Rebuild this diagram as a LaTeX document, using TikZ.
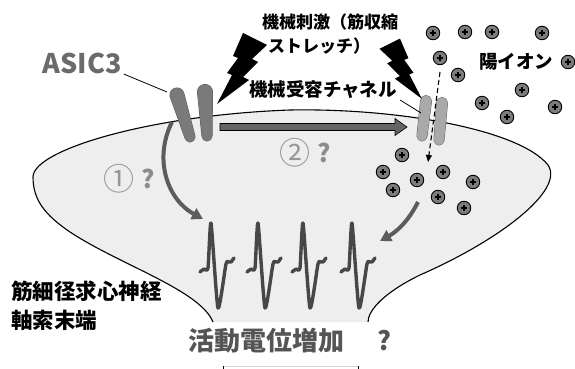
\documentclass[tikz,border=0pt]{standalone}
\usepackage{fontspec}
\setmainfont{Noto Sans CJK JP}
\usetikzlibrary{arrows.meta,calc}

\definecolor{membranefill}{HTML}{EEEEEE}
\definecolor{asicfill}{HTML}{7A7A7A}
\definecolor{asicedge}{HTML}{5E5E5E}
\definecolor{mechfill}{HTML}{A9A9A9}
\definecolor{mechedge}{HTML}{6A6A6A}
\definecolor{flowgray}{HTML}{5C5C5C}
\definecolor{spikegray}{HTML}{474747}
\definecolor{ionfill}{HTML}{7C7C7C}
\definecolor{labelgray}{HTML}{6B6B6B}
\definecolor{numgray}{HTML}{969696}
\definecolor{qgray}{HTML}{8C8C8C}
\definecolor{apgray}{HTML}{555555}

% tapered capsule between two circle centres: #1 top, #2 top radius, #3 bottom, #4 bottom radius
\newcommand\capsulepath[4]{%
  #1 circle[radius=#2] #3 circle[radius=#4]
  ($#1!#2!90:#3$) -- ($#1!#2!-90:#3$) -- ($#3!#4!90:#1$) -- ($#3!#4!-90:#1$) -- cycle}
% channel subunit: outlined outer edge, clean interior
\newcommand\chanblob[6]{%
  \filldraw[fill=#5,draw=#6,line width=1pt] \capsulepath{#1}{#2}{#3}{#4};
  \fill[#5] \capsulepath{#1}{#2}{#3}{#4};}

\begin{document}
\begin{tikzpicture}[x=1pt,y=-1pt,
  txt/.style={inner sep=0pt,anchor=center},
  ion/.style={circle,draw=black,fill=ionfill,line width=0.9pt,minimum size=13.5pt,inner sep=0pt,
    path picture={\draw[line width=1.6pt]
      ([xshift=-3.2pt]path picture bounding box.center) -- ([xshift=3.2pt]path picture bounding box.center)
      ([yshift=-3.2pt]path picture bounding box.center) -- ([yshift=3.2pt]path picture bounding box.center);}},
  flow/.style={draw=flowgray,line width=4pt,-{Triangle[length=11pt,width=12pt]}},
  spike/.style={draw=spikegray,line width=3.4pt,line join=round,line cap=round},
  bolt/.style={fill=black},
  leader/.style={draw=black,line width=0.8pt}]

\useasboundingbox (0,0) rectangle (575,369);

% nerve terminal body
\fill[membranefill] (213,322) .. controls (200,290) and (120,265) .. (70,232)
  .. controls (45,215) and (33,200) .. (33,177)
  .. controls (33,150) and (150,115) .. (290,110)
  .. controls (400,108) and (520,130) .. (548,165)
  .. controls (565,190) and (500,240) .. (420,275)
  .. controls (385,292) and (368,310) .. (368,322) -- cycle;
\draw[black,line width=1.1pt] (213,322) .. controls (200,290) and (120,265) .. (70,232)
  .. controls (45,215) and (33,200) .. (33,177)
  .. controls (33,150) and (150,115) .. (290,110)
  .. controls (400,108) and (520,130) .. (548,165)
  .. controls (565,190) and (500,240) .. (420,275)
  .. controls (385,292) and (368,310) .. (368,322);

% box edge below the terminal
\draw[gray!35,line width=1pt] (223,366.5) -- (358,366.5);
\draw[black,line width=1pt] (223,366) -- (223,372) (358,366) -- (358,372);

% pathway 2 arrow
\filldraw[fill=flowgray!95!white,draw=black,line width=0.6pt]
  (220,123.5) -- (395,123.5) -- (395,118.5) -- (407,127) -- (395,135.5) -- (395,130.5) -- (220,130.5) -- cycle;

% pathway 1 and ion-current arrows
\coordinate (p1s) at (172,122);
\coordinate (p1e) at (203,219);
\coordinate (p2s) at (418,202);
\coordinate (p2e) at (380,241);
\draw[flow] (p1s) .. controls (153,160) and (168,200) .. (p1e);
\draw[flow] (p2s) .. controls (408,222) and (396,232) .. (p2e);

% action potentials
\foreach \sx in {200,247,292,341}{
  \begin{scope}[shift={(\sx,272)}]
    \draw[spike] plot[smooth,tension=0.35] coordinates
      {(0,0) (4,-3) (8,-4) (11,-49) (18,36) (26,-8) (29,-10) (31,-10) (34,-14)};
  \end{scope}}

% ASIC3 channel
\chanblob{(177,95)}{7pt}{(190,137)}{5pt}{asicfill}{asicedge}
\chanblob{(205,92)}{7.5pt}{(207,136)}{5pt}{asicfill}{asicedge}
\coordinate (asicpt) at (167,92);

% mechanoreceptor channel
\chanblob{(426,101)}{5.5pt}{(422,136)}{5pt}{mechfill}{mechedge}
\chanblob{(442,103)}{5.5pt}{(439,140)}{5pt}{mechfill}{mechedge}
\coordinate (mechpt) at (421,113);

% cations
\foreach \p [count=\k] in {(433,33),(465,32),(492,32),(542,33),(440,58),(458,75),(568,62),
    (522,90),(482,103),(507,117),(555,107),
    (402,155),(383,172),(393,190),(417,180),(443,172),(438,197),(473,182),(464,208)}
  \node[ion] (ion\k) at \p {};

% ion influx through the channel
\coordinate (inflowtop) at (440,72);
\coordinate (inflowend) at (428,162);
\draw[black,line width=1.1pt,dash pattern=on 5pt off 3pt,-{Triangle[length=7pt,width=6pt]}]
  (inflowtop) -- (inflowend);

% mechanical stimulus bolts
\fill[bolt] (243,33) -- (267,45) -- (252,59) -- (258,62) -- (243,77) -- (249,80) -- (217,104)
  -- (232,75) -- (227,73) -- (238,58) -- (233,56) -- cycle;
\fill[bolt] (400,38.6) -- (379.5,48.8) -- (392.3,60.8) -- (387.2,63.3) -- (399.9,76.1)
  -- (394.8,78.6) -- (422,99) -- (409.3,74.4) -- (413.5,72.7) -- (404.2,59.9) -- (408.4,58.2) -- cycle;

% labels
\node[txt,font=\bfseries\fontsize{27}{30}\selectfont,text=labelgray] (asic) at (82,63) {ASIC3};
\draw[leader] ([xshift=2pt,yshift=-11pt]asic.east) -- (asicpt);

\node[txt,font=\bfseries\fontsize{17}{20}\selectfont] (stim1) at (330,22) {機械刺激（筋収縮};
\node[txt,font=\bfseries\fontsize{17}{20}\selectfont] (stim2) at (319,46) {ストレッチ）};
\node[txt,font=\bfseries\fontsize{18.5}{21}\selectfont] (mech) at (323,90) {機械受容チャネル};
\draw[leader] ([xshift=3pt,yshift=-10pt]mech.east) -- (mechpt);
\node[txt,font=\bfseries\fontsize{18.5}{21}\selectfont] (cation) at (516,62) {陽イオン};

\node[txt,font=\fontsize{31}{34}\selectfont,text=numgray] (n1) at (119,179) {①};
\node[txt,font=\bfseries\fontsize{25}{28}\selectfont,text=qgray] (q1) at (148,179) {?};
\node[txt,font=\fontsize{31}{34}\selectfont,text=numgray] (n2) at (295,153) {②};
\node[txt,font=\bfseries\fontsize{25}{28}\selectfont,text=qgray] (q2) at (324,153) {?};

\node[txt,font=\bfseries\fontsize{21.5}{25}\selectfont,anchor=west] (axon1) at (11,291) {筋細径求心神経};
\node[txt,font=\bfseries\fontsize{21.5}{25}\selectfont,anchor=west] (axon2) at (11,320) {軸索末端};

\node[txt,font=\bfseries\fontsize{26}{30}\selectfont,text=apgray,anchor=west] (ap) at (188,341) {活動電位増加};
\node[txt,font=\bfseries\fontsize{26}{30}\selectfont,text=apgray] (apq) at (384,341) {?};
\end{tikzpicture}
\end{document}
